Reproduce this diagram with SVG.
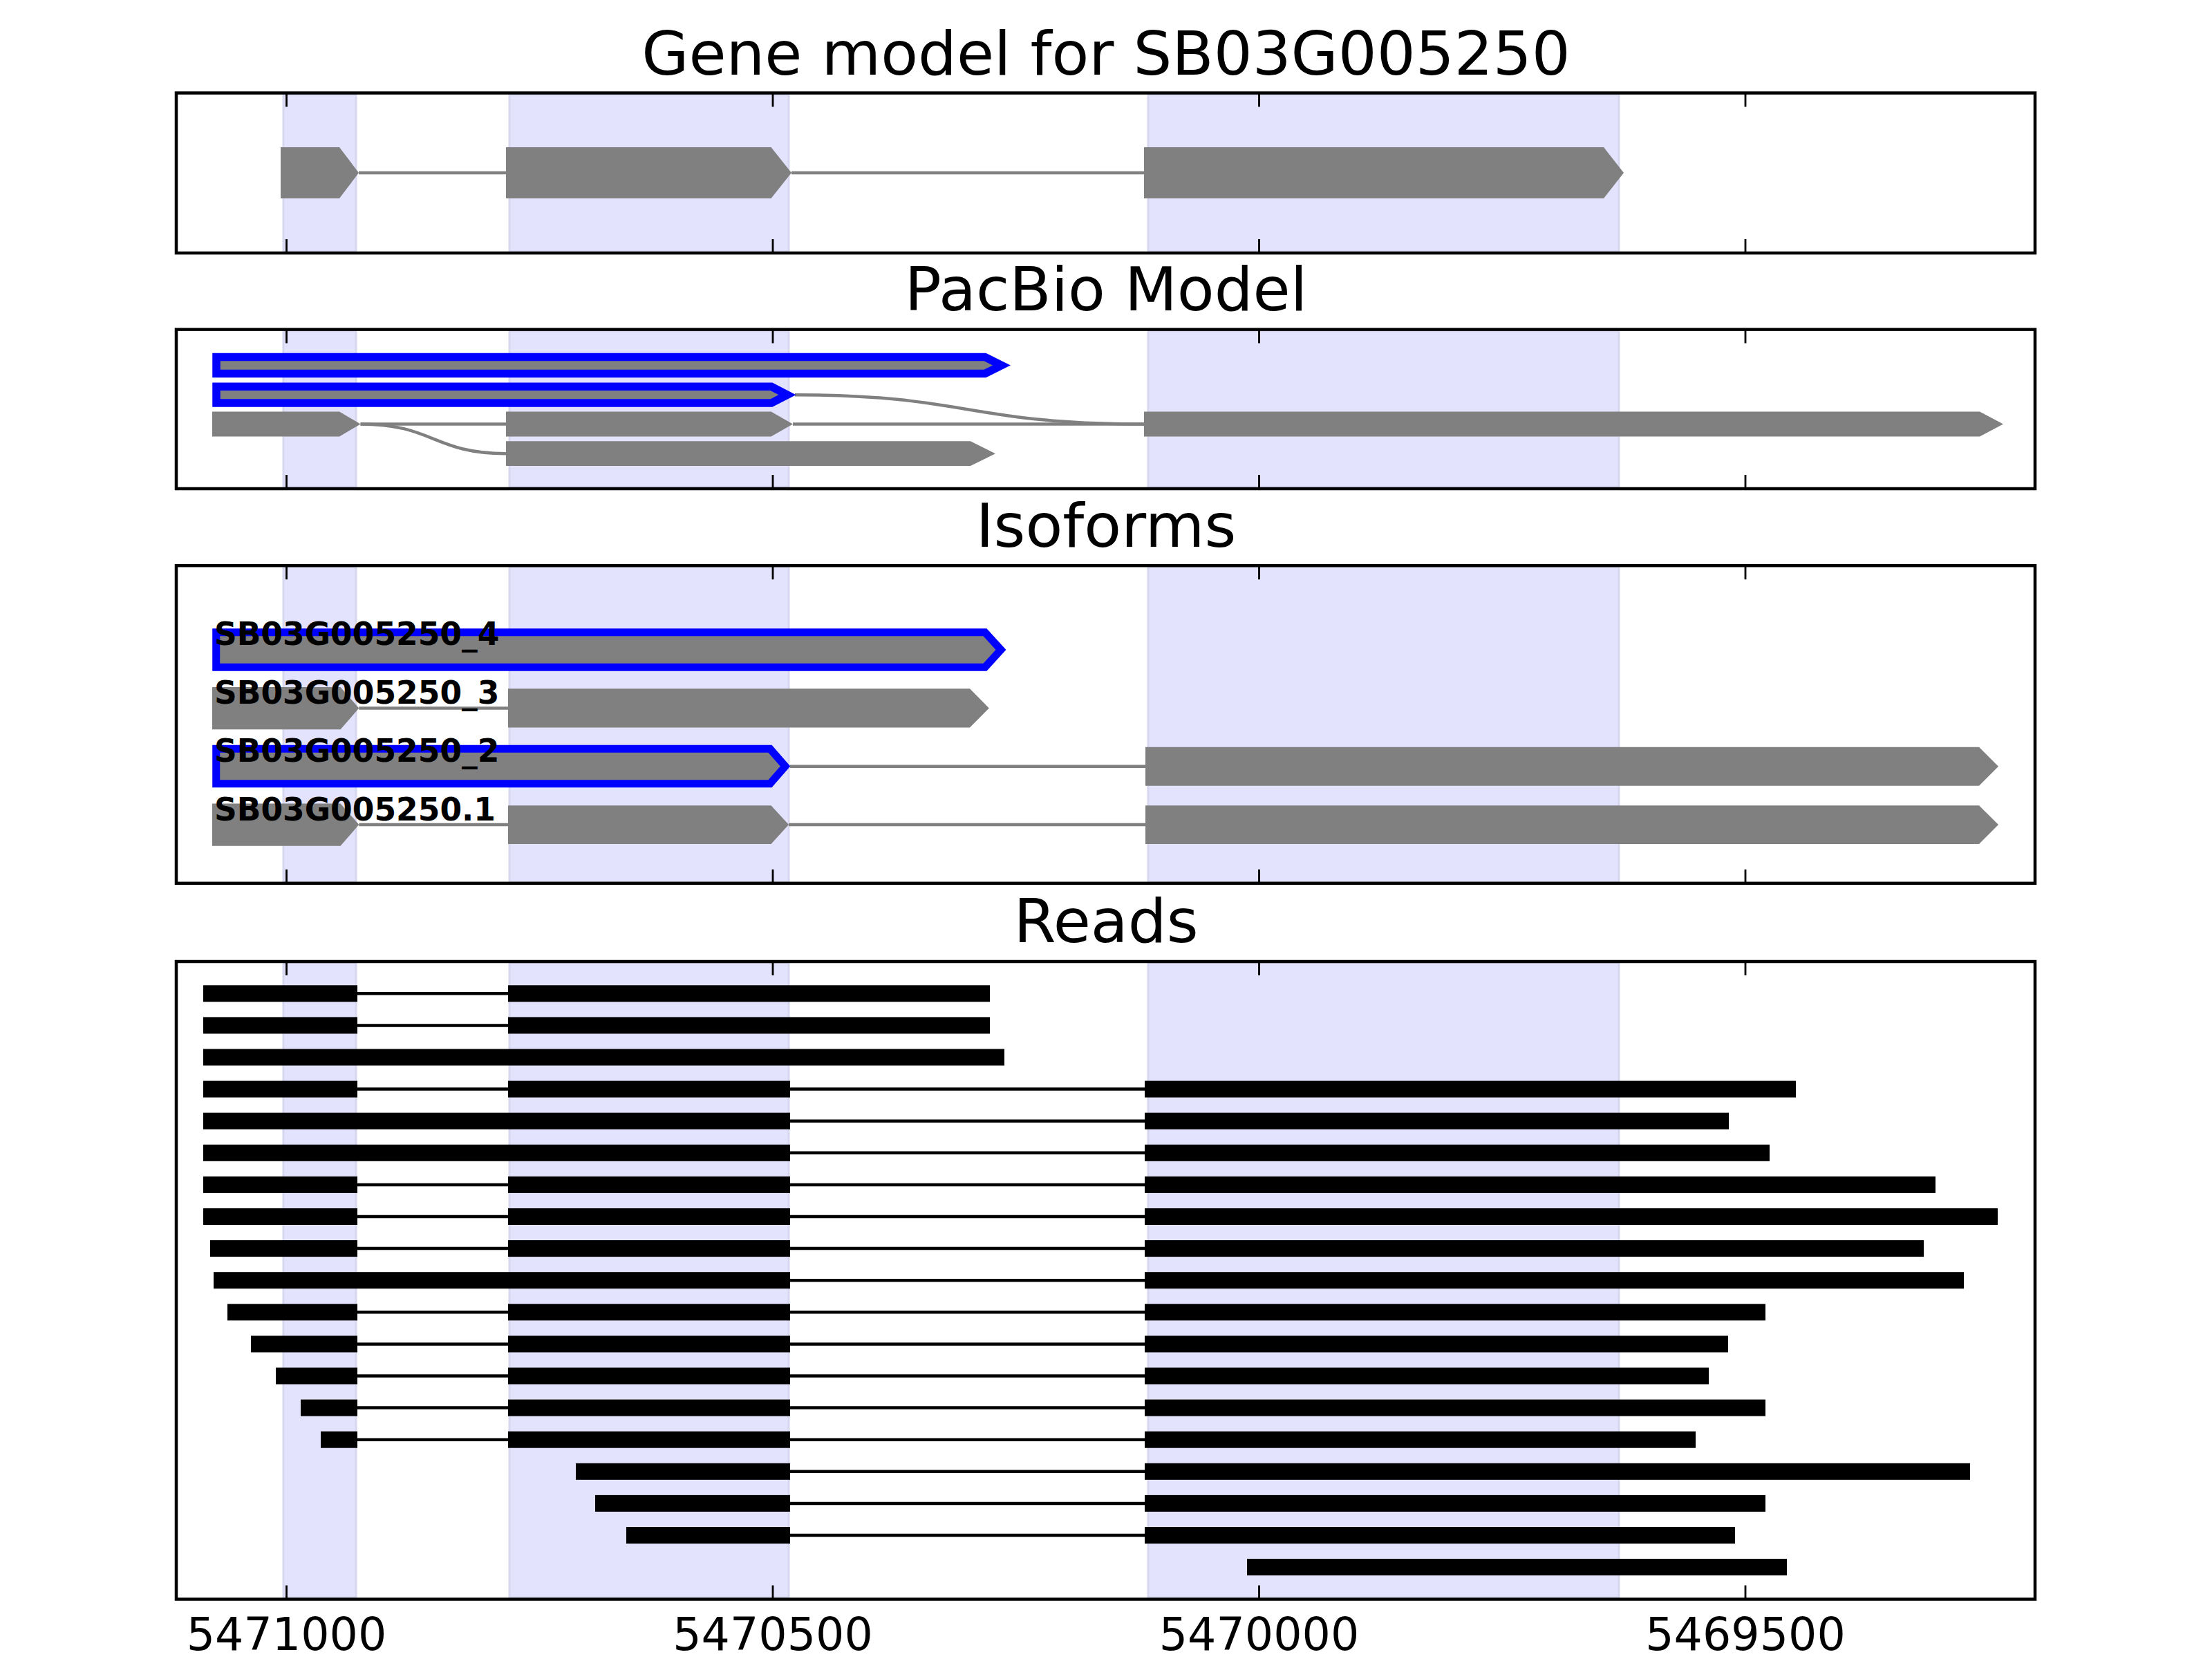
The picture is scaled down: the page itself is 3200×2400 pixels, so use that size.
<svg xmlns="http://www.w3.org/2000/svg" width="3200" height="2400" viewBox="0 0 3200 2400">
<style>
.bg{fill:#fff}
.frame{fill:none;stroke:#000;stroke-width:4.5}
.span{fill:#e3e3fd;stroke:#d7d7ef;stroke-width:3}
.tick{stroke:#000;stroke-width:2.8}
.ex{fill:#808080}
.exb{fill:#808080;stroke:#0000ff;stroke-width:11.5;stroke-linejoin:miter}
.intr{stroke:#808080;stroke-width:4.5;fill:none}
.rd{fill:#000}
.rl{stroke:#000;stroke-width:4.5}
.title{font-family:"DejaVu Sans","Liberation Sans",sans-serif;font-size:88px;text-anchor:middle;fill:#000}
.lab{font-family:"DejaVu Sans","Liberation Sans",sans-serif;font-weight:bold;font-size:45.5px;fill:#000}
.tl{font-family:"DejaVu Sans","Liberation Sans",sans-serif;font-size:65px;text-anchor:middle;fill:#000}
</style>
<rect class="bg" x="0" y="0" width="3200" height="2400"/>

<!-- shaded spans -->
<g id="spans">
  <rect class="span" x="410" y="137" width="105" height="227"/>
  <rect class="span" x="737" y="137" width="404" height="227"/>
  <rect class="span" x="1661" y="137" width="681" height="227"/>
  <rect class="span" x="410" y="479" width="105" height="226"/>
  <rect class="span" x="737" y="479" width="404" height="226"/>
  <rect class="span" x="1661" y="479" width="681" height="226"/>
  <rect class="span" x="410" y="820" width="105" height="456"/>
  <rect class="span" x="737" y="820" width="404" height="456"/>
  <rect class="span" x="1661" y="820" width="681" height="456"/>
  <rect class="span" x="410" y="1393" width="105" height="918"/>
  <rect class="span" x="737" y="1393" width="404" height="918"/>
  <rect class="span" x="1661" y="1393" width="681" height="918"/>
</g>

<!-- titles -->
<text class="title" x="1600" y="108">Gene model for SB03G005250</text>
<text class="title" x="1600" y="449">PacBio Model</text>
<text class="title" x="1600" y="791">Isoforms</text>
<text class="title" x="1600" y="1363">Reads</text>

<!-- connectors -->
<g id="connectors">
  <line class="intr" x1="519" y1="250" x2="732" y2="250"/>
  <line class="intr" x1="1145" y1="250" x2="1655" y2="250"/>
  <path class="intr" d="M1150,571.2 C1400,571.2 1400,613.5 1655,613.5"/>
  <line class="intr" x1="521.6" y1="613.5" x2="732" y2="613.5"/>
  <line class="intr" x1="1147" y1="613.5" x2="1655" y2="613.5"/>
  <path class="intr" d="M521.6,613.5 C627,613.5 627,656.2 732,656.2"/>
  <line class="intr" x1="519.3" y1="1024.6" x2="735" y2="1024.6"/>
  <line class="intr" x1="1143" y1="1108.8" x2="1657" y2="1108.8"/>
  <line class="intr" x1="519.3" y1="1193" x2="735" y2="1193"/>
  <line class="intr" x1="1141" y1="1193" x2="1657" y2="1193"/>
  <line class="rl" x1="517" y1="1437.3" x2="735" y2="1437.3"/>
  <line class="rl" x1="517" y1="1483.4" x2="735" y2="1483.4"/>
  <line class="rl" x1="517" y1="1575.6" x2="735" y2="1575.6"/>
  <line class="rl" x1="1143" y1="1575.6" x2="1656" y2="1575.6"/>
  <line class="rl" x1="1143" y1="1621.7" x2="1656" y2="1621.7"/>
  <line class="rl" x1="1143" y1="1667.8" x2="1656" y2="1667.8"/>
  <line class="rl" x1="517" y1="1713.9" x2="735" y2="1713.9"/>
  <line class="rl" x1="1143" y1="1713.9" x2="1656" y2="1713.9"/>
  <line class="rl" x1="517" y1="1760" x2="735" y2="1760"/>
  <line class="rl" x1="1143" y1="1760" x2="1656" y2="1760"/>
  <line class="rl" x1="517" y1="1806.1" x2="735" y2="1806.1"/>
  <line class="rl" x1="1143" y1="1806.1" x2="1656" y2="1806.1"/>
  <line class="rl" x1="1143" y1="1852.2" x2="1656" y2="1852.2"/>
  <line class="rl" x1="517" y1="1898.3" x2="735" y2="1898.3"/>
  <line class="rl" x1="1143" y1="1898.3" x2="1656" y2="1898.3"/>
  <line class="rl" x1="517" y1="1944.4" x2="735" y2="1944.4"/>
  <line class="rl" x1="1143" y1="1944.4" x2="1656" y2="1944.4"/>
  <line class="rl" x1="517" y1="1990.5" x2="735" y2="1990.5"/>
  <line class="rl" x1="1143" y1="1990.5" x2="1656" y2="1990.5"/>
  <line class="rl" x1="517" y1="2036.6" x2="735" y2="2036.6"/>
  <line class="rl" x1="1143" y1="2036.6" x2="1656" y2="2036.6"/>
  <line class="rl" x1="517" y1="2082.7" x2="735" y2="2082.7"/>
  <line class="rl" x1="1143" y1="2082.7" x2="1656" y2="2082.7"/>
  <line class="rl" x1="1143" y1="2128.8" x2="1656" y2="2128.8"/>
  <line class="rl" x1="1143" y1="2174.9" x2="1656" y2="2174.9"/>
  <line class="rl" x1="1143" y1="2221" x2="1656" y2="2221"/>
</g>

<!-- gene model -->
<g id="gene-model">
  <polygon class="ex" points="406,213 491,213 519,250 491,287 406,287"/>
  <polygon class="ex" points="732,213 1115.5,213 1145,250 1115.5,287 732,287"/>
  <polygon class="ex" points="1655,213 2320,213 2349,250 2320,287 1655,287"/>
</g>

<!-- PacBio model -->
<g id="pacbio-1"><polygon class="exb" points="313,516.6 1425,516.6 1449,528.5 1425,540.4 313,540.4"/></g>
<g id="pacbio-2"><polygon class="exb" points="313,559.3 1116,559.3 1139,571.2 1116,583.1 313,583.1"/></g>
<g id="pacbio-3">
  <polygon class="ex" points="307,595.6 491,595.6 521.6,613.5 491,631.4 307,631.4"/>
  <polygon class="ex" points="732,595.6 1115.5,595.6 1147,613.5 1115.5,631.4 732,631.4"/>
  <polygon class="ex" points="1655,595.6 2864,595.6 2898,613.5 2864,631.4 1655,631.4"/>
</g>
<g id="pacbio-4"><polygon class="ex" points="732,638.3 1404,638.3 1440,656.2 1404,674.1 732,674.1"/></g>

<!-- Isoforms -->
<g id="iso-4">
  <polygon class="exb" points="312.7,914.8 1425,914.8 1448,940 1425,965.2 312.7,965.2" style="stroke-width:11"/>
  <text class="lab" x="310" y="933">SB03G005250_4</text>
</g>
<g id="iso-3">
  <polygon class="ex" points="307,993.9 492.5,993.9 519.3,1024.6 492.5,1055.3 307,1055.3"/>
  <polygon class="ex" points="735,996.2 1403,996.2 1430.8,1024.4 1403,1052.6 735,1052.6"/>
  <text class="lab" x="310" y="1018">SB03G005250_3</text>
</g>
<g id="iso-2">
  <polygon class="exb" points="312.7,1083.3 1114,1083.3 1136,1108.5 1114,1133.7 312.7,1133.7" style="stroke-width:11"/>
  <polygon class="ex" points="1657,1080.8 2863,1080.8 2891,1108.8 2863,1136.8 1657,1136.8"/>
  <text class="lab" x="310" y="1101.7">SB03G005250_2</text>
</g>
<g id="iso-1">
  <polygon class="ex" points="307,1162.4 492.5,1162.4 519.3,1193 492.5,1223.7 307,1223.7"/>
  <polygon class="ex" points="735,1165.3 1115.5,1165.3 1141,1193 1115.5,1221 735,1221"/>
  <polygon class="ex" points="1657,1165.3 2863,1165.3 2891,1193 2863,1221 1657,1221"/>
  <text class="lab" x="310" y="1187.2">SB03G005250.1</text>
</g>

<!-- Reads -->
<g id="read-1"><rect class="rd" x="294" y="1425.3" width="223" height="24"/><rect class="rd" x="735" y="1425.3" width="697" height="24"/></g>
<g id="read-2"><rect class="rd" x="294" y="1471.4" width="223" height="24"/><rect class="rd" x="735" y="1471.4" width="697" height="24"/></g>
<g id="read-3"><rect class="rd" x="294" y="1517.5" width="1159" height="24"/></g>
<g id="read-4"><rect class="rd" x="294" y="1563.6" width="223" height="24"/><rect class="rd" x="735" y="1563.6" width="408" height="24"/><rect class="rd" x="1656" y="1563.6" width="942" height="24"/></g>
<g id="read-5"><rect class="rd" x="294" y="1609.7" width="849" height="24"/><rect class="rd" x="1656" y="1609.7" width="845" height="24"/></g>
<g id="read-6"><rect class="rd" x="294" y="1655.8" width="849" height="24"/><rect class="rd" x="1656" y="1655.8" width="904" height="24"/></g>
<g id="read-7"><rect class="rd" x="294" y="1701.9" width="223" height="24"/><rect class="rd" x="735" y="1701.9" width="408" height="24"/><rect class="rd" x="1656" y="1701.9" width="1144" height="24"/></g>
<g id="read-8"><rect class="rd" x="294" y="1748" width="223" height="24"/><rect class="rd" x="735" y="1748" width="408" height="24"/><rect class="rd" x="1656" y="1748" width="1234" height="24"/></g>
<g id="read-9"><rect class="rd" x="304" y="1794.1" width="213" height="24"/><rect class="rd" x="735" y="1794.1" width="408" height="24"/><rect class="rd" x="1656" y="1794.1" width="1127" height="24"/></g>
<g id="read-10"><rect class="rd" x="309" y="1840.2" width="834" height="24"/><rect class="rd" x="1656" y="1840.2" width="1185" height="24"/></g>
<g id="read-11"><rect class="rd" x="329" y="1886.3" width="188" height="24"/><rect class="rd" x="735" y="1886.3" width="408" height="24"/><rect class="rd" x="1656" y="1886.3" width="898" height="24"/></g>
<g id="read-12"><rect class="rd" x="363" y="1932.4" width="154" height="24"/><rect class="rd" x="735" y="1932.4" width="408" height="24"/><rect class="rd" x="1656" y="1932.4" width="844" height="24"/></g>
<g id="read-13"><rect class="rd" x="399" y="1978.5" width="118" height="24"/><rect class="rd" x="735" y="1978.5" width="408" height="24"/><rect class="rd" x="1656" y="1978.5" width="816" height="24"/></g>
<g id="read-14"><rect class="rd" x="435" y="2024.6" width="82" height="24"/><rect class="rd" x="735" y="2024.6" width="408" height="24"/><rect class="rd" x="1656" y="2024.6" width="898" height="24"/></g>
<g id="read-15"><rect class="rd" x="464" y="2070.7" width="53" height="24"/><rect class="rd" x="735" y="2070.7" width="408" height="24"/><rect class="rd" x="1656" y="2070.7" width="797" height="24"/></g>
<g id="read-16"><rect class="rd" x="833" y="2116.8" width="310" height="24"/><rect class="rd" x="1656" y="2116.8" width="1194" height="24"/></g>
<g id="read-17"><rect class="rd" x="861" y="2162.9" width="282" height="24"/><rect class="rd" x="1656" y="2162.9" width="898" height="24"/></g>
<g id="read-18"><rect class="rd" x="906" y="2209" width="237" height="24"/><rect class="rd" x="1656" y="2209" width="854" height="24"/></g>
<g id="read-19"><rect class="rd" x="1804" y="2255.1" width="781" height="24"/></g>

<!-- frames and ticks -->
<g id="axes">
  <rect class="frame" x="255" y="134.5" width="2689" height="231.5"/>
  <rect class="frame" x="255" y="476.6" width="2689" height="230.4"/>
  <rect class="frame" x="255" y="818.2" width="2689" height="459.6"/>
  <rect class="frame" x="255" y="1391" width="2689" height="922.5"/>
  <path class="tick" d="M414.5,134.5v20M1118,134.5v20M1821.5,134.5v20M2525,134.5v20M414.5,366v-20M1118,366v-20M1821.5,366v-20M2525,366v-20"/>
  <path class="tick" d="M414.5,476.6v20M1118,476.6v20M1821.5,476.6v20M2525,476.6v20M414.5,707v-20M1118,707v-20M1821.5,707v-20M2525,707v-20"/>
  <path class="tick" d="M414.5,818.2v20M1118,818.2v20M1821.5,818.2v20M2525,818.2v20M414.5,1277.8v-20M1118,1277.8v-20M1821.5,1277.8v-20M2525,1277.8v-20"/>
  <path class="tick" d="M414.5,1391v20M1118,1391v20M1821.5,1391v20M2525,1391v20M414.5,2313.5v-20M1118,2313.5v-20M1821.5,2313.5v-20M2525,2313.5v-20"/>
  <text class="tl" x="414.5" y="2386.5">5471000</text>
  <text class="tl" x="1118" y="2386.5">5470500</text>
  <text class="tl" x="1821.5" y="2386.5">5470000</text>
  <text class="tl" x="2525" y="2386.5">5469500</text>
</g>
</svg>
